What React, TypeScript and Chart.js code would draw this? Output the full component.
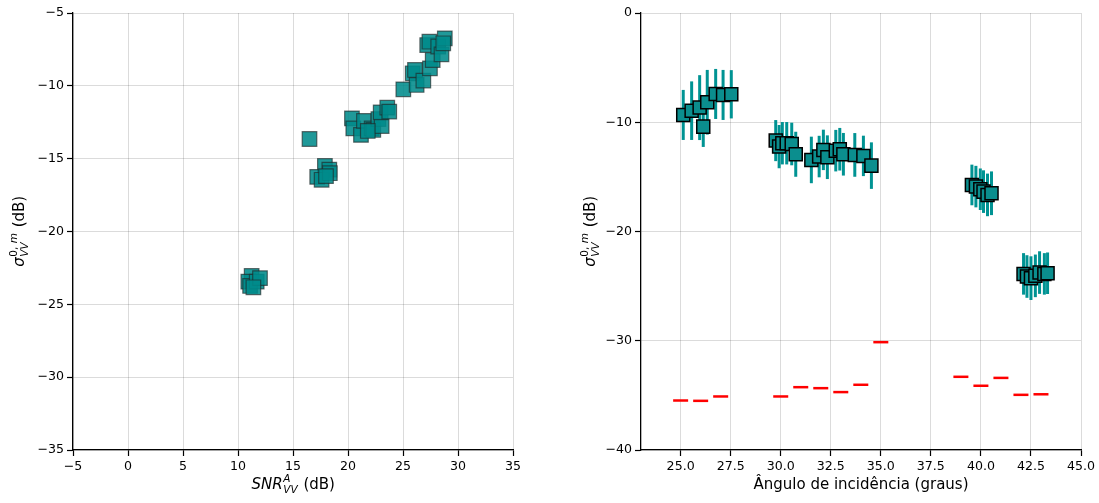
import React, { useEffect, useRef } from 'react';
import { Chart, registerables } from 'chart.js';
Chart.register(...registerables);

// ---------- Left panel data: SNR vs sigma ----------
const snrValues = [
  11.24, 10.94, 11.1, 11.7, 12.0, 11.4,
  16.5,
  17.9, 18.3, 17.2, 17.6, 18.35, 18.0,
  20.36, 20.48, 21.18, 21.45, 22.15, 22.3, 22.76, 23.06, 22.97, 23.57, 23.75, 21.8,
  25.03, 25.88, 26.09, 26.24, 26.85, 27.45, 27.7, 27.2, 27.4, 28.2, 28.5, 28.8, 28.66,
];
const sigmaVsSnr = [
  -23.05, -23.44, -23.74, -23.44, -23.2, -23.83,
  -13.65,
  -15.5, -15.75, -16.25, -16.45, -16.0, -16.2,
  -12.23, -12.92, -13.37, -12.41, -12.92, -13.03, -12.28, -12.76, -11.82, -11.5, -11.77, -13.1,
  -10.24, -9.14, -8.91, -9.94, -9.64, -8.8, -8.23, -7.2, -6.97, -7.3, -7.84, -6.74, -7.08,
];
const leftXTicks = [-5, 0, 5, 10, 15, 20, 25, 30, 35];
const leftYTicks = [-35, -30, -25, -20, -15, -10, -5];

// ---------- Right panel data: incidence angle vs sigma ----------
const incidenceAngles = [
  25.13, 25.55, 25.95, 26.13, 26.33, 26.75, 27.12, 27.53,
  29.75, 29.92, 30.08, 30.3, 30.55, 30.75,
  31.53, 31.92, 32.13, 32.33, 32.75, 32.95, 33.13, 33.7, 34.13, 34.53,
  39.55, 39.75, 39.97, 40.13, 40.33, 40.53,
  42.13, 42.3, 42.5, 42.72, 42.93, 43.17, 43.33,
];
const sigmaVsAngle = [
  -9.33, -8.94, -8.66, -10.4, -8.17, -7.41, -7.5, -7.44,
  -11.68, -12.23, -11.92, -11.92, -11.99, -12.93,
  -13.45, -13.14, -12.53, -13.2, -12.6, -12.47, -12.93, -12.99, -13.08, -13.97,
  -15.74, -15.89, -16.13, -16.35, -16.65, -16.5,
  -23.88, -24.12, -24.27, -24.06, -23.76, -23.88, -23.82,
];
const sigmaErrors = [
  2.29, 2.68, 2.97, 1.86, 2.96, 2.29, 2.29, 2.21,
  1.88, 1.98, 1.94, 1.94, 1.95, 2.06,
  2.13, 1.9, 1.85, 2.0, 1.9, 1.95, 1.95, 2.0, 1.85, 2.13,
  1.86, 1.9, 1.9, 1.95, 1.95, 2.0,
  1.9, 1.95, 2.0, 1.95, 1.95, 1.9, 1.9,
];
const modelAngles = [25, 26, 27, 30, 31, 32, 33, 34, 35, 39, 40, 41, 42, 43];
const modelSigma = [
  -35.47, -35.5, -35.1, -35.1, -34.25, -34.34, -34.7, -34.03, -30.13,
  -33.3, -34.12, -33.4, -34.95, -34.9,
];
const rightXTicks = [25, 27.5, 30, 32.5, 35, 37.5, 40, 42.5, 45];
const rightYTicks = [-40, -30, -20, -10, 0];

const FONT = 'DejaVu Sans';
const minus = (s: string) => s.replace('-', '\u2212');

function drawSigmaTitle(ctx: CanvasRenderingContext2D, cx: number, cy: number) {
  const big = 15;
  const small = 10.5;
  ctx.save();
  ctx.translate(cx, cy);
  ctx.rotate(-Math.PI / 2);
  ctx.fillStyle = '#000';
  ctx.textBaseline = 'alphabetic';
  ctx.textAlign = 'left';
  ctx.font = `italic ${big}px ${FONT}`;
  const wSig = ctx.measureText('σ').width;
  ctx.font = `${small}px ${FONT}`;
  const w0 = ctx.measureText('0, ').width;
  ctx.font = `italic ${small}px ${FONT}`;
  const wm = ctx.measureText('m').width;
  const wVV = ctx.measureText('VV').width;
  const wScript = Math.max(w0 + wm, wVV) + 1;
  ctx.font = `${big}px ${FONT}`;
  const wdB = ctx.measureText(' (dB)').width;
  const total = wSig + wScript + wdB;
  let x = -total / 2;
  const base = 5;
  ctx.font = `italic ${big}px ${FONT}`;
  ctx.fillText('σ', x, base);
  x += wSig + 0.5;
  ctx.font = `${small}px ${FONT}`;
  ctx.fillText('0, ', x, base - 7);
  ctx.font = `italic ${small}px ${FONT}`;
  ctx.fillText('m', x + w0, base - 7);
  ctx.fillText('VV', x, base + 4);
  x += wScript;
  ctx.font = `${big}px ${FONT}`;
  ctx.fillText(' (dB)', x, base);
  ctx.restore();
}

function drawSnrTitle(ctx: CanvasRenderingContext2D, cx: number, baseY: number) {
  const big = 15;
  const small = 10.5;
  ctx.save();
  ctx.fillStyle = '#000';
  ctx.textBaseline = 'alphabetic';
  ctx.textAlign = 'left';
  ctx.font = `italic ${big}px ${FONT}`;
  const wSnr = ctx.measureText('SNR').width;
  ctx.font = `italic ${small}px ${FONT}`;
  const wA = ctx.measureText('A').width;
  const wVV = ctx.measureText('VV').width;
  const wScript = Math.max(wA, wVV) + 1;
  ctx.font = `${big}px ${FONT}`;
  const wdB = ctx.measureText(' (dB)').width;
  const total = wSnr + wScript + wdB;
  let x = cx - total / 2;
  ctx.font = `italic ${big}px ${FONT}`;
  ctx.fillText('SNR', x, baseY);
  x += wSnr + 0.5;
  ctx.font = `italic ${small}px ${FONT}`;
  ctx.fillText('A', x, baseY - 7);
  ctx.fillText('VV', x, baseY + 4);
  x += wScript;
  ctx.font = `${big}px ${FONT}`;
  ctx.fillText(' (dB)', x, baseY);
  ctx.restore();
}

function axisCommon(ticks: number[], fmt: (v: number) => string, isX: boolean, size: number) {
  return {
    type: 'linear' as const,
    min: ticks[0],
    max: ticks[ticks.length - 1],
    afterBuildTicks: (scale: any) => {
      scale.ticks = ticks.map((v) => ({ value: v }));
    },
    afterFit: (scale: any) => {
      if (isX) scale.height = size;
      else scale.width = size;
    },
    grid: {
      color: 'rgba(0,0,0,0.14)',
      lineWidth: 1,
      drawTicks: true,
      tickLength: 6,
      tickColor: '#000',
      tickWidth: 1.2,
    },
    border: { color: '#000', width: 1.3 },
    ticks: {
      color: '#000',
      font: { family: FONT, size: 12.6 },
      padding: 3,
      autoSkip: false,
      maxRotation: 0,
      callback: (v: any) => fmt(Number(v)),
    },
  };
}

const errorBarPlugin = {
  id: 'errorBars',
  beforeDatasetsDraw(chart: any) {
    const xs = chart.scales.x;
    const ys = chart.scales.y;
    const ctx = chart.ctx as CanvasRenderingContext2D;
    ctx.save();
    ctx.strokeStyle = '#009393';
    ctx.lineWidth = 3;
    incidenceAngles.forEach((a, i) => {
      const px = xs.getPixelForValue(a);
      ctx.beginPath();
      ctx.moveTo(px, ys.getPixelForValue(sigmaVsAngle[i] + sigmaErrors[i]));
      ctx.lineTo(px, ys.getPixelForValue(sigmaVsAngle[i] - sigmaErrors[i]));
      ctx.stroke();
    });
    ctx.restore();
  },
};

export default function App() {
  const leftRef = useRef<HTMLCanvasElement>(null);
  const rightRef = useRef<HTMLCanvasElement>(null);

  useEffect(() => {
    const leftTitles = {
      id: 'leftTitles',
      afterDraw(chart: any) {
        const ca = chart.chartArea;
        drawSigmaTitle(chart.ctx, 19, (ca.top + ca.bottom) / 2);
        drawSnrTitle(chart.ctx, (ca.left + ca.right) / 2, 489);
      },
    };
    const rightTitles = {
      id: 'rightTitles',
      afterDraw(chart: any) {
        const ca = chart.chartArea;
        const ctx = chart.ctx as CanvasRenderingContext2D;
        drawSigmaTitle(ctx, 30, (ca.top + ca.bottom) / 2);
        ctx.save();
        ctx.fillStyle = '#000';
        ctx.font = `15px ${FONT}`;
        ctx.textAlign = 'center';
        ctx.textBaseline = 'alphabetic';
        ctx.fillText('Ângulo de incidência (graus)', (ca.left + ca.right) / 2, 489);
        ctx.restore();
      },
    };

    const left = new Chart(leftRef.current!, {
      type: 'scatter',
      data: {
        datasets: [
          {
            data: snrValues.map((x, i) => ({ x, y: sigmaVsSnr[i] })),
            pointStyle: 'rect',
            pointRadius: 10.3,
            backgroundColor: 'rgba(0,139,139,0.88)',
            borderColor: 'rgba(30,40,40,0.65)',
            borderWidth: 1.2,
          },
        ],
      },
      options: {
        animation: false,
        responsive: false,
        layout: { padding: { top: 13, right: 47, bottom: 0, left: 0 } },
        plugins: { legend: { display: false }, tooltip: { enabled: false } },
        scales: {
          x: axisCommon(leftXTicks, (v) => minus(String(v)), true, 53),
          y: axisCommon(leftYTicks, (v) => minus(String(v)), false, 73),
        },
      },
      plugins: [leftTitles],
    });

    const right = new Chart(rightRef.current!, {
      type: 'scatter',
      data: {
        datasets: [
          {
            data: incidenceAngles.map((x, i) => ({ x, y: sigmaVsAngle[i] })),
            pointStyle: 'rect',
            pointRadius: 9.2,
            backgroundColor: '#0b8e8e',
            borderColor: '#000',
            borderWidth: 1.5,
          },
          {
            data: modelAngles.map((x, i) => ({ x, y: modelSigma[i] })),
            pointStyle: 'line',
            pointRadius: 7.5,
            borderColor: '#ff0000',
            backgroundColor: '#ff0000',
            borderWidth: 2.5,
          },
        ],
      },
      options: {
        animation: false,
        responsive: false,
        layout: { padding: { top: 13, right: 18, bottom: 0, left: 0 } },
        plugins: { legend: { display: false }, tooltip: { enabled: false } },
        scales: {
          x: {
            ...axisCommon(rightXTicks, (v) => v.toFixed(1), true, 53),
            min: 23.02,
            max: 45,
          },
          y: axisCommon(rightYTicks, (v) => minus(String(v)), false, 81),
        },
      },
      plugins: [errorBarPlugin, rightTitles],
    });

    return () => {
      left.destroy();
      right.destroy();
    };
  }, []);

  return (
    <div style={{ position: 'fixed', left: 0, top: 0, width: 1099, height: 503, background: '#fff' }}>
      <canvas ref={leftRef} width={560} height={503} style={{ position: 'absolute', left: 0, top: 0 }} />
      <canvas ref={rightRef} width={539} height={503} style={{ position: 'absolute', left: 560, top: 0 }} />
    </div>
  );
}
